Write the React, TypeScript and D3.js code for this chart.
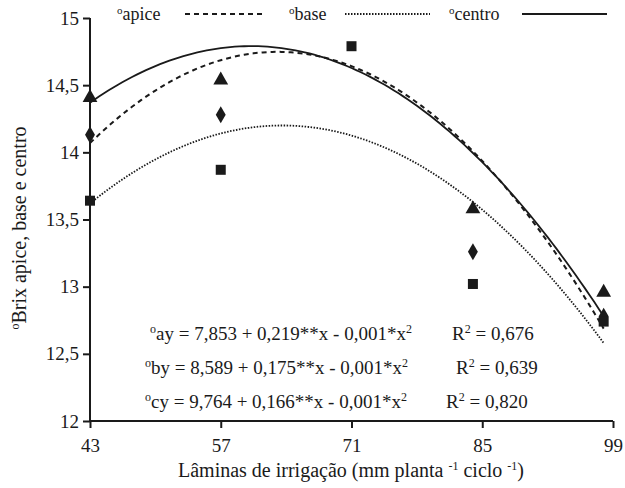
import React, { useRef, useEffect } from 'react';
import * as d3 from 'd3';

// irrigation levels (x) and brix readings per fruit position
const laminas = [43, 57, 71, 84, 98];
const apice = [14.13, 14.28, null, 13.26, 12.78];
const base = [13.64, 13.87, 14.79, 13.02, 12.74];
const centro = [14.4, 14.53, null, 13.57, 12.95];

// quadratic fits [c, b, a]
const fitApice = [8.035, 0.2129, -0.001688];
const fitBase = [8.667, 0.174, -0.001368];
const fitCentro = [9.663, 0.17018, -0.001412];

const xTicks = [43, 57, 71, 85, 99];
const yTicks = [12, 12.5, 13, 13.5, 14, 14.5, 15];

const eqs = [
  { pre: 'ay = 7,853 + 0,219**x - 0,001*x', r2: '0,676', x: 150, rx: 452 },
  { pre: 'by = 8,589 + 0,175**x - 0,001*x', r2: '0,639', x: 145, rx: 456 },
  { pre: 'cy = 9,764 + 0,166**x - 0,001*x', r2: '0,820', x: 145, rx: 446 }
];

const App = () => {
  const svgRef = useRef(null);
  const w = 625;
  const h = 488;
  const font = "'Liberation Serif', 'Times New Roman', serif";
  const ink = '#1a1a1a';

  useEffect(() => {
    const svg = d3.select(svgRef.current);
    svg.selectAll('*').remove();

    const x = d3.scaleLinear().domain([43, 99]).range([90, 613]);
    const y = d3.scaleLinear().domain([12, 15]).range([421, 18]);

    // axes
    const xAxis = d3.axisBottom(x).tickValues(xTicks).tickSize(7).tickFormat(d3.format('d'));
    const gx = svg.append('g').attr('transform', 'translate(0,421)').call(xAxis);
    gx.select('.domain').attr('d', 'M90,0H613').attr('stroke', ink).attr('stroke-width', 2);
    gx.selectAll('.tick line').attr('stroke', ink).attr('stroke-width', 2);
    gx.selectAll('.tick text')
      .attr('font-family', font)
      .attr('font-size', 19)
      .attr('fill', ink)
      .attr('dy', '1.1em');

    const yAxis = d3.axisLeft(y).tickValues(yTicks).tickSize(7)
      .tickFormat((d) => String(d).replace('.', ','));
    const gy = svg.append('g').attr('transform', 'translate(90,0)').call(yAxis);
    gy.select('.domain').attr('d', 'M0,18V421').attr('stroke', ink).attr('stroke-width', 2);
    gy.selectAll('.tick line').attr('stroke', ink).attr('stroke-width', 2);
    gy.selectAll('.tick text')
      .attr('font-family', font)
      .attr('font-size', 19)
      .attr('fill', ink)
      .attr('x', -11);

    // fitted curves over the measured range
    const xs = d3.range(43, 98.001, 0.5);
    const line = d3.line().x((d) => x(d[0])).y((d) => y(d[1]));
    const curve = (f) => xs.map((v) => [v, f[0] + f[1] * v + f[2] * v * v]);

    const series = [
      { fit: fitBase, dash: '1.5,1.5', width: 1.8 },
      { fit: fitApice, dash: '5,4', width: 2 },
      { fit: fitCentro, dash: null, width: 1.8 }
    ];
    series.forEach((s) => {
      svg.append('path')
        .attr('d', line(curve(s.fit)))
        .attr('fill', 'none')
        .attr('stroke', ink)
        .attr('stroke-width', s.width)
        .attr('stroke-dasharray', s.dash);
    });

    // markers
    const pts = (vals) => laminas.map((l, i) => [l, vals[i]]).filter((d) => d[1] != null);
    svg.selectAll('.tri').data(pts(centro)).join('path')
      .attr('d', d3.symbol(d3.symbolTriangle, 95))
      .attr('transform', (d) => `translate(${x(d[0])},${y(d[1]) - 1})`)
      .attr('fill', ink);
    svg.selectAll('.dia').data(pts(apice)).join('path')
      .attr('class', 'dia')
      .attr('d', d3.symbol(d3.symbolDiamond, 85))
      .attr('transform', (d) => `translate(${x(d[0])},${y(d[1])})`)
      .attr('fill', ink);
    svg.selectAll('.sq').data(pts(base)).join('rect')
      .attr('class', 'sq')
      .attr('x', (d) => x(d[0]) - 5)
      .attr('y', (d) => y(d[1]) - 5)
      .attr('width', 10)
      .attr('height', 10)
      .attr('fill', ink);

    // legend
    const legend = [
      { label: 'apice', tx: 117, x1: 185, x2: 266, dash: '5,4' },
      { label: 'base', tx: 289, x1: 345, x2: 430, dash: '1.5,1.5' },
      { label: 'centro', tx: 449, x1: 522, x2: 607, dash: null }
    ];
    legend.forEach((l) => {
      const t = svg.append('text')
        .attr('x', l.tx).attr('y', 20)
        .attr('font-family', font).attr('font-size', 18).attr('fill', ink);
      t.append('tspan').attr('font-size', 11).attr('dy', -6).text('o');
      t.append('tspan').attr('dy', 6).text(l.label);
      svg.append('line')
        .attr('x1', l.x1).attr('x2', l.x2).attr('y1', 14).attr('y2', 14)
        .attr('stroke', ink).attr('stroke-width', 1.8)
        .attr('stroke-dasharray', l.dash);
    });

    // equations
    eqs.forEach((e, i) => {
      const yy = 340 + i * 34;
      const t = svg.append('text')
        .attr('x', e.x).attr('y', yy)
        .attr('font-family', font).attr('font-size', 19).attr('fill', ink);
      t.append('tspan').attr('font-size', 12).attr('dy', -7).text('o');
      t.append('tspan').attr('dy', 7).text(e.pre);
      t.append('tspan').attr('font-size', 12).attr('dy', -7).text('2');
      const r = svg.append('text')
        .attr('x', e.rx).attr('y', yy)
        .attr('font-family', font).attr('font-size', 19).attr('fill', ink);
      r.append('tspan').text('R');
      r.append('tspan').attr('font-size', 12).attr('dy', -7).text('2');
      r.append('tspan').attr('dy', 7).text(' = ' + e.r2);
    });

    // axis titles
    const xt = svg.append('text')
      .attr('x', 351).attr('y', 477)
      .attr('text-anchor', 'middle')
      .attr('font-family', font).attr('font-size', 20).attr('fill', ink);
    xt.append('tspan').text('Lâminas de irrigação (mm planta ');
    xt.append('tspan').attr('font-size', 12).attr('dy', -7).text('-1');
    xt.append('tspan').attr('dy', 7).text(' ciclo ');
    xt.append('tspan').attr('font-size', 12).attr('dy', -7).text('-1');
    xt.append('tspan').attr('dy', 7).text(')');

    const yt = svg.append('text')
      .attr('transform', 'translate(26,228) rotate(-90)')
      .attr('text-anchor', 'middle')
      .attr('font-family', font).attr('font-size', 20).attr('fill', ink);
    yt.append('tspan').attr('font-size', 12).attr('dy', -7).text('o');
    yt.append('tspan').attr('dy', 7).text('Brix apice, base e centro');
  }, []);

  return (
    <svg
      ref={svgRef}
      width={w}
      height={h}
      style={{ position: 'absolute', left: 0, top: 0, background: '#fff' }}
    />
  );
};

export default App;
